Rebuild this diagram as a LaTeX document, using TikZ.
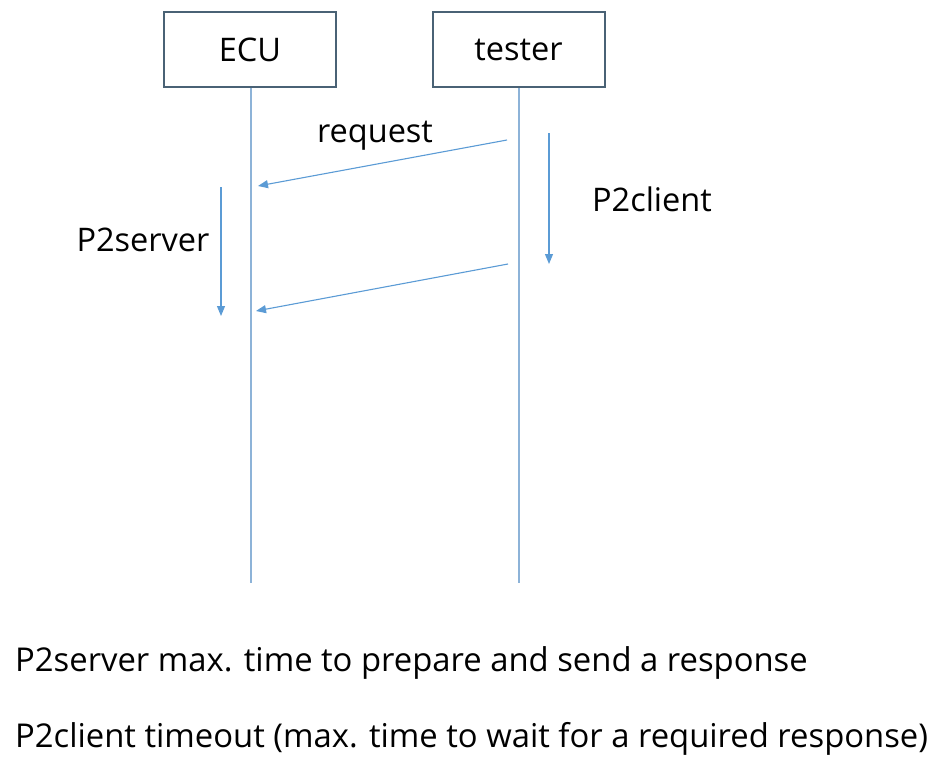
\documentclass[tikz,border=0pt]{standalone}
\usepackage{fontspec}
\setmainfont{Open Sans}
\usetikzlibrary{arrows.meta}
\definecolor{boxcol}{HTML}{4A6275}
\definecolor{linecol}{HTML}{5B9BD5}
\definecolor{lifecol}{HTML}{8DB3D8}
\tikzset{
  x=1pt,y=-1pt,
  actor/.style={draw=boxcol,line width=2pt,minimum width=172pt,minimum height=75pt,inner sep=0pt,font=\fontsize{32.5}{36}\selectfont},
  life/.style={draw=lifecol,line width=1.4pt},
  msg/.style={draw=linecol,line width=1.1pt,-{Triangle[length=10pt,width=8pt]}},
  lbl/.style={font=\fontsize{32.5}{36}\selectfont,inner sep=0pt},
  note/.style={font=\fontsize{32.8}{36}\selectfont,inner sep=0pt,anchor=base west}
}
\begin{document}
\begin{tikzpicture}
\useasboundingbox (0,0) rectangle (945,766);
\node[actor] (ecu) at (250,49.5) {\raisebox{-2pt}{ECU}};
\node[actor] (tester) at (518.5,49.5) {\raisebox{-2pt}{tester}};
\coordinate (ecuend) at (251,583);
\coordinate (testerend) at (519,583);
\draw[life] (ecu.south -| ecuend) -- (ecuend);
\draw[life] (tester.south -| testerend) -- (testerend);
\coordinate (reqs) at (507,140);
\coordinate (reqe) at (258,186);
\coordinate (rsps) at (508,264);
\coordinate (rspe) at (256,311);
\draw[msg] (reqs) -- (reqe);
\draw[msg] (rsps) -- (rspe);
\coordinate (pcs) at (549,133);
\coordinate (pce) at (549,264);
\draw[msg] (pcs) -- (pce);
\coordinate (pss) at (221,187);
\coordinate (pse) at (221,316);
\draw[msg] (pss) -- (pse);
\node[lbl] (req) at (375,136) {request};
\node[lbl] (p2c) at (652,199) {P2client};
\node[lbl] (p2s) at (143,240) {P2server};
\node[note] (n1) at (15,671) {P2server max. time to prepare and send a response};
\node[note] (n2) at (15,747) {P2client timeout (max. time to wait for a required response)};
\end{tikzpicture}
\end{document}
